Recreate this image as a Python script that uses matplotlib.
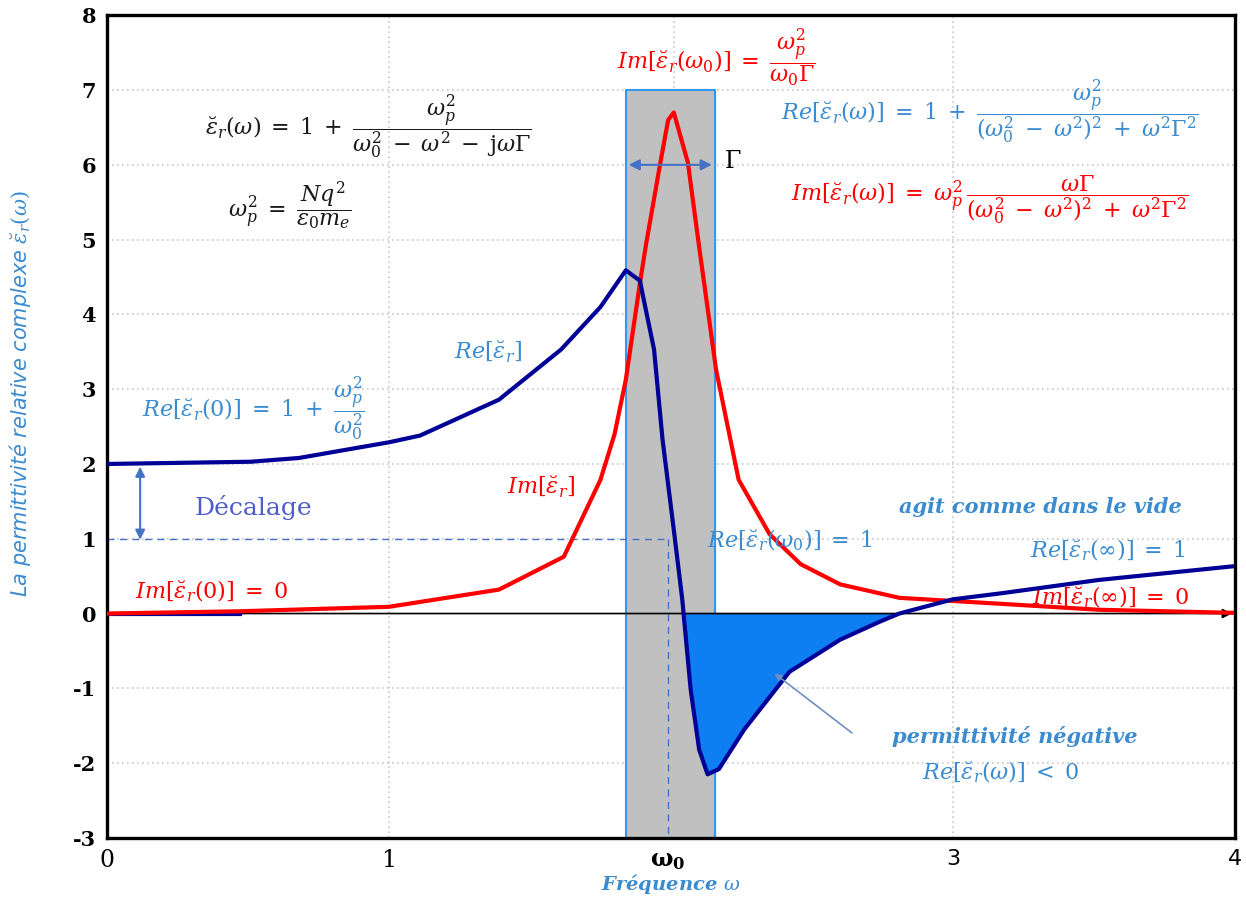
import matplotlib
matplotlib.use('Agg')
import matplotlib.pyplot as plt
import numpy as np

plt.rcParams['mathtext.fontset'] = 'dejavuserif'
plt.rcParams['font.family'] = 'DejaVu Serif'

# Imaginary part (red curve)
im_x = [0, 0.47, 1.0, 1.39, 1.62, 1.75, 1.80, 1.84, 1.89, 1.91, 1.96, 1.99, 2.01,
        2.06, 2.10, 2.16, 2.24, 2.35, 2.46, 2.60, 2.81, 3.17, 3.52, 3.99]
im_y = [0.0, 0.03, 0.09, 0.32, 0.76, 1.79, 2.4, 3.13, 4.42, 4.9, 5.98, 6.6, 6.70,
        6.03, 4.9, 3.26, 1.79, 1.06, 0.66, 0.39, 0.21, 0.13, 0.05, 0.01]

# Real part (navy curve)
re_x = [0, 0.51, 0.68, 1.0, 1.11, 1.39, 1.61, 1.75, 1.84, 1.89, 1.90, 1.94, 1.97,
        2.01, 2.04, 2.07, 2.10, 2.13, 2.17, 2.26, 2.42, 2.60, 2.74, 2.81, 3.0,
        3.17, 3.52, 3.99]
re_y = [2.0, 2.03, 2.08, 2.29, 2.38, 2.86, 3.53, 4.1, 4.59, 4.45, 4.26, 3.53, 2.33,
        1.12, 0.19, -1.02, -1.82, -2.15, -2.08, -1.55, -0.78, -0.35, -0.11, 0.0,
        0.19, 0.27, 0.45, 0.63]

w0 = 1.99
band = (1.84, 2.155)
y_ticks = [-3, -2, -1, 0, 1, 2, 3, 4, 5, 6, 7, 8]
x_ticks = [0, 1, w0, 3, 4]
x_labels = ['0', '1', r'$\mathbf{\omega_0}$', '3', '4']

navy = '#000096'
red = '#ff0000'
tblue = '#3b8bd0'
arrow_blue = '#4472c4'


def m(s):
    # widen the spacing around operators, Cambria-style
    for op in ['=', '+', '-', '<']:
        s = s.replace(' %s ' % op, r'\;%s\;' % op)
    return '$' + s + '$'


fig = plt.figure(figsize=(12.46, 8.99), dpi=100)
ax = fig.add_axes([0.086, 0.068, 0.905, 0.915])
ax.set_xlim(0, 4)
ax.set_ylim(-3, 8)

# grid
for y in [-2, -1, 1, 2, 3, 4, 5, 6, 7]:
    ax.axhline(y, color='#c8c8c8', lw=1.2, ls=(0, (1, 2)), zorder=0)
for x in [1, 2.01, 3]:
    ax.axvline(x, color='#c8c8c8', lw=1.2, ls=(0, (1, 2)), zorder=0)

# resonance band
ax.fill_between(band, -3, 7, color='#c0c0c0', zorder=1)
ax.plot([band[0], band[0], band[1], band[1], band[0]], [-3, 7, 7, -3, -3],
        color='#3399ee', lw=1.5, zorder=2)

# dashed guides
ax.plot([0, w0], [1, 1], color=arrow_blue, lw=1, ls=(0, (5, 4)), zorder=2)
ax.plot([w0, w0], [1, -3], color=arrow_blue, lw=1, ls=(0, (5, 4)), zorder=2)

# negative permittivity fill
rx = np.array(re_x)
ry = np.array(re_y)
ax.fill_between(rx, ry, 0, where=ry <= 0, color='#0d7ff2', interpolate=True, zorder=3)

# x axis with arrow
ax.annotate('', xy=(4, 0), xytext=(0, 0),
            arrowprops=dict(arrowstyle='-|>', color='black', lw=1.2, mutation_scale=14),
            zorder=4)

ax.plot(im_x, im_y, color=red, lw=3, zorder=5)
ax.plot(re_x, re_y, color=navy, lw=3, zorder=6)
ax.plot([0, 0.47], [0.0, 0.0], color=navy, lw=3, zorder=4)

# spines / ticks
for s in ax.spines.values():
    s.set_linewidth(2.4)
    s.set_color('black')
ax.tick_params(length=0, pad=8)
ax.set_yticks(y_ticks)
ax.set_yticklabels([str(v) for v in y_ticks], fontsize=15, fontweight='bold')
ax.set_xticks(x_ticks)
ax.set_xticklabels(x_labels, fontsize=17)
for lab in ax.get_xticklabels()[3:]:
    lab.set_family('DejaVu Sans')
    lab.set_fontsize(16)

ax.set_xlabel(r'Fréquence $\omega$', color=tblue, fontsize=14, style='italic',
              fontweight='bold', va='center')
ax.xaxis.set_label_coords(0.5, -0.0555)
ax.set_ylabel(r'La permittivité relative complexe $\breve{\varepsilon}_r(\omega)$',
              color=tblue, fontsize=15, style='italic', family='DejaVu Sans')
ax.yaxis.set_label_coords(-0.066, 0.54)

eps = r'\breve{\varepsilon}_r'
fs = 16
ink = '#1a1a1a'

ax.text(0.925, 6.5, m(r'%s(\omega) = 1 + \dfrac{\omega_p^2}{\omega_0^2 - \omega^2 - \mathrm{j}\omega\Gamma}' % eps),
        ha='center', va='center', fontsize=fs, color=ink, zorder=7)
ax.text(0.65, 5.45, m(r'\omega_p^2 = \dfrac{Nq^2}{\varepsilon_0 m_e}'),
        ha='center', va='center', fontsize=fs, color=ink, zorder=7)
ax.text(2.16, 7.43, m(r'Im[%s(\omega_0)] = \dfrac{\omega_p^2}{\omega_0 \Gamma}' % eps),
        ha='center', va='center', fontsize=fs, color=red, zorder=7)
ax.text(3.13, 6.7, m(r'Re[%s(\omega)] = 1 + \dfrac{\omega_p^2}{(\omega_0^2 - \omega^2)^2 + \omega^2\Gamma^2}' % eps),
        ha='center', va='center', fontsize=fs, color=tblue, zorder=7)
ax.text(3.13, 5.53, m(r'Im[%s(\omega)] = \omega_p^2\,\dfrac{\omega\Gamma}{(\omega_0^2 - \omega^2)^2 + \omega^2\Gamma^2}' % eps),
        ha='center', va='center', fontsize=fs, color=red, zorder=7)

ax.annotate('', xy=(band[0], 6.0), xytext=(band[1], 6.0),
            arrowprops=dict(arrowstyle='<|-|>', color=arrow_blue, lw=1.5, mutation_scale=16),
            zorder=7)
ax.text(2.22, 6.04, r'$\Gamma$', ha='center', va='center', fontsize=17, color='black')

ax.text(1.35, 3.5, m(r'Re[%s]' % eps), ha='center', va='center', fontsize=fs, color=tblue)
ax.text(0.52, 2.73, m(r'Re[%s(0)] = 1 + \dfrac{\omega_p^2}{\omega_0^2}' % eps),
        ha='center', va='center', fontsize=fs, color=tblue)
ax.text(1.54, 1.7, m(r'Im[%s]' % eps), ha='center', va='center', fontsize=fs, color=red)

ax.annotate('', xy=(0.117, 2.0), xytext=(0.117, 0.95),
            arrowprops=dict(arrowstyle='<|-|>', color=arrow_blue, lw=1.5, mutation_scale=14))
ax.text(0.52, 1.42, 'Décalage', ha='center', va='center', fontsize=18, color='#4e5ec9')

ax.text(0.37, 0.29, m(r'Im[%s(0)] = 0' % eps), ha='center', va='center', fontsize=fs, color=red)
ax.text(3.31, 1.42, 'agit comme dans le vide', ha='center', va='center', fontsize=15,
        color=tblue, style='italic', fontweight='bold')
ax.text(2.42, 0.98, m(r'Re[%s(\omega_0)] = 1' % eps), ha='center', va='center',
        fontsize=fs, color=tblue, zorder=7)
ax.text(3.55, 0.84, m(r'Re[%s(\infty)] = 1' % eps), ha='center', va='center',
        fontsize=fs, color=tblue)
ax.text(3.56, 0.21, m(r'Im[%s(\infty)] = 0' % eps), ha='center', va='center',
        fontsize=fs, color=red)

ax.annotate('', xy=(2.36, -0.78), xytext=(2.65, -1.62),
            arrowprops=dict(arrowstyle='-|>', color='#6f8fc0', lw=1.2, mutation_scale=10),
            zorder=7)
ax.text(3.22, -1.64, 'permittivité négative', ha='center', va='center', fontsize=15,
        color=tblue, style='italic', fontweight='bold')
ax.text(3.17, -2.13, m(r'Re[%s(\omega)] < 0' % eps), ha='center', va='center',
        fontsize=fs, color=tblue)

fig.savefig('out.png', dpi=100)
